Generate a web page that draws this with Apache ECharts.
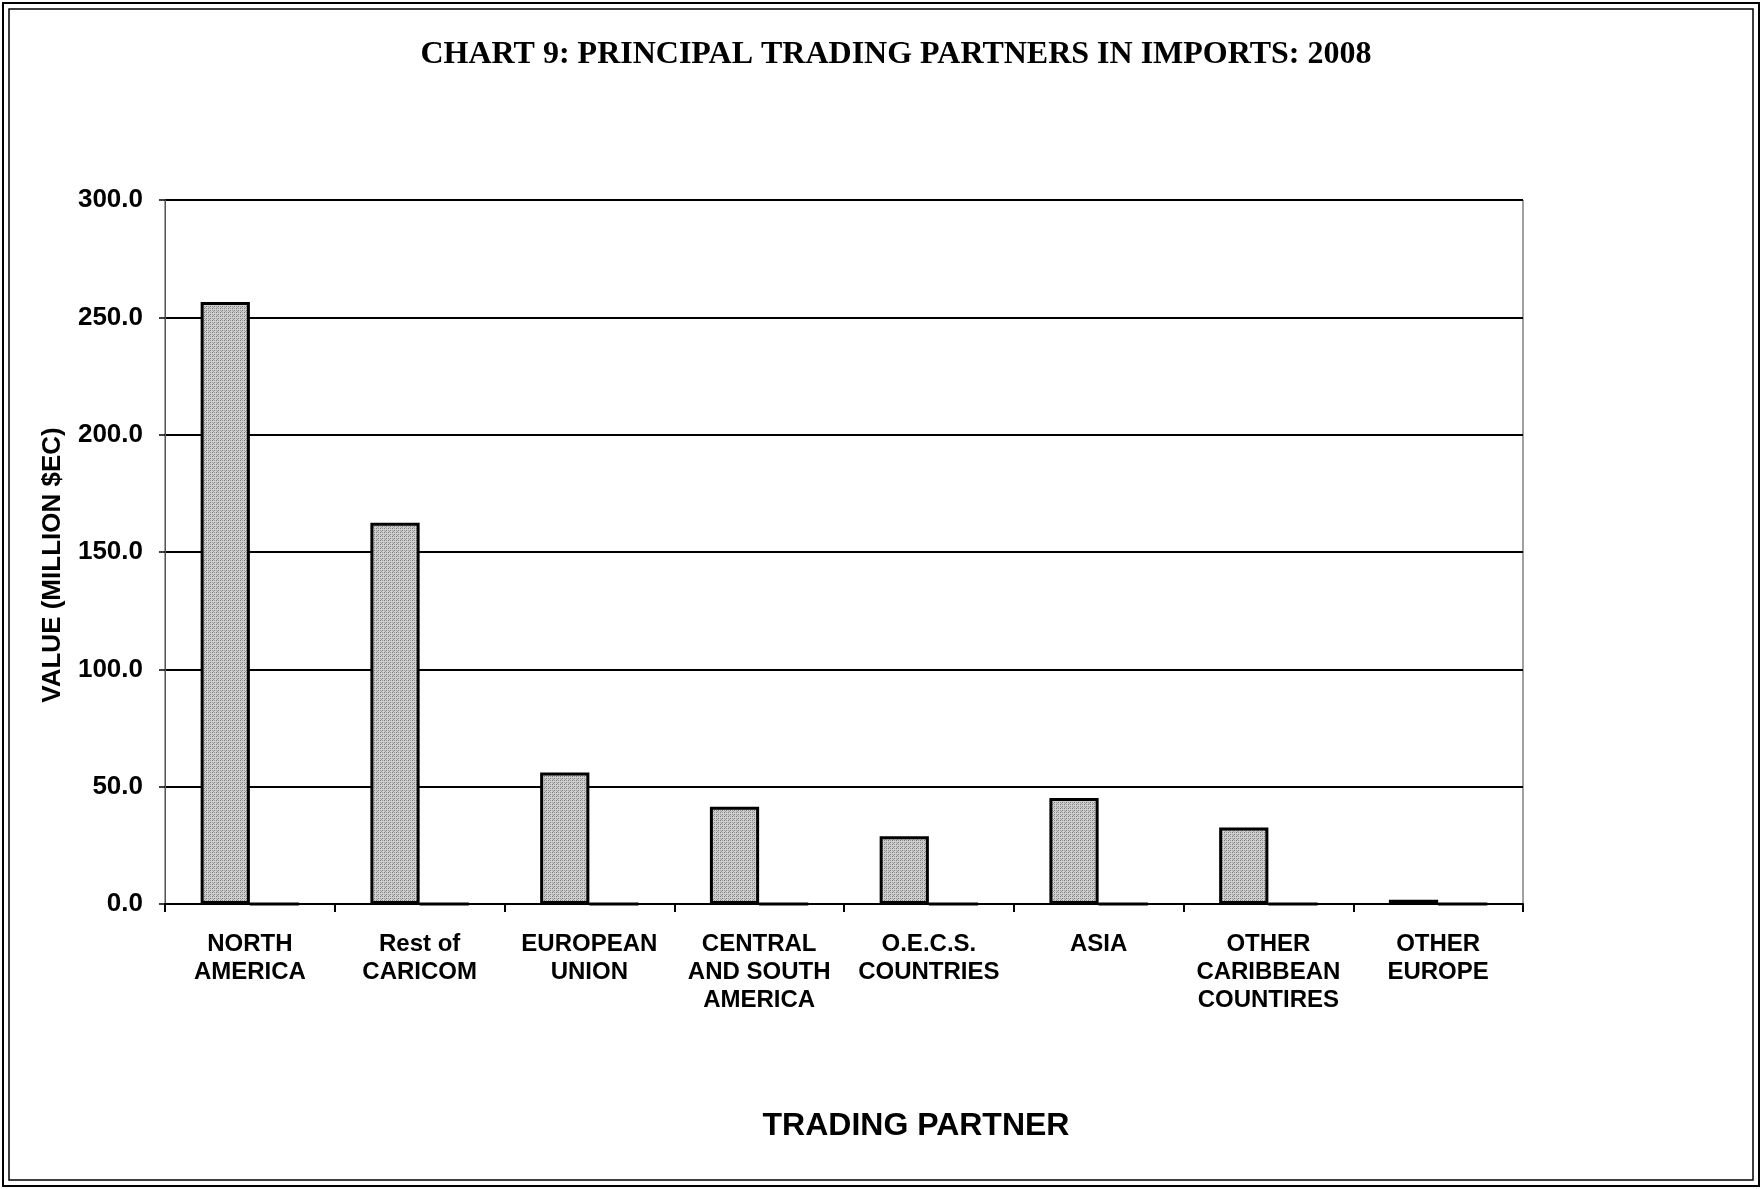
<!DOCTYPE html>
<html>
<head>
<meta charset="utf-8">
<title>Chart 9</title>
<script src="https://cdn.jsdelivr.net/npm/echarts@6/dist/echarts.min.js"></script>
<style>
  html, body { margin: 0; padding: 0; background: #fff; }
  #chart { width: 1762px; height: 1189px; }
</style>
</head>
<body>
<div id="chart"></div>
<script>
// data
const partners = [
    "NORTH\nAMERICA", "Rest of\nCARICOM", "EUROPEAN\nUNION", "CENTRAL\nAND SOUTH\nAMERICA",
    "O.E.C.S.\nCOUNTRIES", "ASIA", "OTHER\nCARIBBEAN\nCOUNTIRES", "OTHER\nEUROPE"
];
const imports2008 = [256.5, 162.5, 56.0, 41.4, 28.9, 45.2, 32.6, 1.8];
const emptySeries = [0, 0, 0, 0, 0, 0, 0, 0];
const yTicks = { min: 0, max: 300, interval: 50 };

// stippled grey fill like the scanned print
function makeStipple() {
    const c = document.createElement("canvas");
    c.width = 4;
    c.height = 4;
    const ctx = c.getContext("2d");
    ctx.fillStyle = "#cfcfcf";
    ctx.fillRect(0, 0, 4, 4);
    ctx.fillStyle = "#7a7a7a";
    ctx.fillRect(0, 0, 1, 1);
    ctx.fillRect(2, 2, 1, 1);
    ctx.fillStyle = "#9a9a9a";
    ctx.fillRect(2, 0, 1, 1);
    ctx.fillRect(0, 2, 1, 1);
    ctx.fillRect(1, 3, 1, 1);
    return c;
}

const chart = echarts.init(document.getElementById("chart"), null, { renderer: "canvas" });
const barStyle = {
    color: { image: makeStipple(), repeat: "repeat" },
    borderColor: "#000",
    borderWidth: 3
};

chart.setOption({
    backgroundColor: "#fff",
    animation: false,
    title: {
        text: "CHART 9: PRINCIPAL TRADING PARTNERS IN IMPORTS: 2008",
        left: 891,
        textAlign: "center",
        top: 34,
        textStyle: {
            fontFamily: "Liberation Serif",
            fontWeight: "bold",
            fontSize: 32,
            color: "#000"
        }
    },
    graphic: [
        { type: "rect", shape: { x: 3, y: 3, width: 1756, height: 1183 },
          style: { fill: null, stroke: "#000", lineWidth: 2 } },
        { type: "rect", shape: { x: 9, y: 9, width: 1744, height: 1171 },
          style: { fill: null, stroke: "#000", lineWidth: 1.5 } },
        { type: "rect", shape: { x: 165, y: 200, width: 1358, height: 704 },
          style: { fill: null, stroke: "#444", lineWidth: 1 } },
        { type: "text", x: 916, y: 1126,
          style: { text: "TRADING PARTNER", fontFamily: "Liberation Sans", fontWeight: "bold",
                   fontSize: 32, fill: "#000", align: "center", verticalAlign: "middle" } },
        { type: "text", x: 53, y: 565, rotation: Math.PI / 2,
          style: { text: "VALUE (MILLION $EC)", fontFamily: "Liberation Sans", fontWeight: "bold",
                   fontSize: 26, fill: "#000", align: "center", verticalAlign: "middle" } }
    ],
    grid: { left: 165, right: 239, top: 200, bottom: 285, containLabel: false },
    xAxis: {
        type: "category",
        data: partners,
        axisLine: { lineStyle: { color: "#000", width: 2 } },
        axisTick: { show: true, length: 8, lineStyle: { color: "#000", width: 2 } },
        axisLabel: {
            margin: 26,
            fontFamily: "Liberation Sans",
            fontWeight: "bold",
            fontSize: 24,
            lineHeight: 28,
            color: "#000",
            interval: 0
        }
    },
    yAxis: {
        type: "value",
        min: yTicks.min,
        max: yTicks.max,
        interval: yTicks.interval,
        axisLine: { show: true, lineStyle: { color: "#555", width: 1 } },
        axisTick: { show: true, length: 6, lineStyle: { color: "#000", width: 1.5 } },
        axisLabel: {
            margin: 22,
            formatter: v => v.toFixed(1),
            fontFamily: "Liberation Sans",
            fontWeight: "bold",
            fontSize: 26,
            color: "#000"
        },
        splitLine: { show: true, lineStyle: { color: "#000", width: 2 } }
    },
    series: [
        {
            name: "Imports 2008",
            type: "bar",
            data: imports2008,
            barGap: "0%",
            barCategoryGap: "42%",
            itemStyle: barStyle,
            z: 3
        },
        {
            name: "Other",
            type: "bar",
            data: emptySeries,
            barGap: "0%",
            barCategoryGap: "42%",
            itemStyle: barStyle,
            z: 3
        }
    ]
});
</script>
</body>
</html>
